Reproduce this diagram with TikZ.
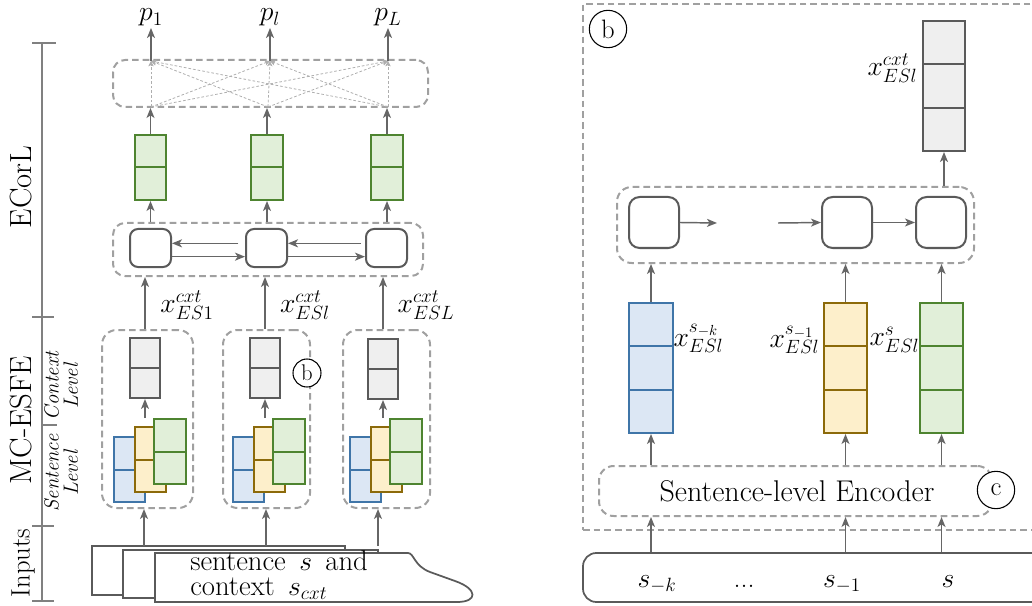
\documentclass[tikz,border=0pt]{standalone}
\usetikzlibrary{arrows.meta,fit,calc}
\definecolor{dk}{HTML}{5A5A5A}
\definecolor{arrc}{HTML}{666666}
\definecolor{dsh}{HTML}{A0A0A0}
\definecolor{axc}{HTML}{808080}
\definecolor{bluS}{HTML}{3F75A8}
\definecolor{bluF}{HTML}{DCE7F4}
\definecolor{ylwS}{HTML}{8C6A0A}
\definecolor{ylwF}{HTML}{FDEFCB}
\definecolor{grnS}{HTML}{4E8430}
\definecolor{grnF}{HTML}{E1EFD9}
\definecolor{gryF}{HTML}{EFEFEF}
\begin{document}
\begin{tikzpicture}[x=0.75pt,y=-0.75pt,
  arr/.style={draw=arrc, line width=1.1pt, -{Stealth[length=7.5pt,width=6pt,inset=2pt]}},
  xln/.style={draw=dsh!85, line width=0.6pt, dash pattern=on 2pt off 1.5pt, -{Stealth[length=4pt,width=4pt,inset=1pt]}},
  axis/.style={draw=axc, line width=0.8pt},
  vecbox/.style={inner sep=0pt, line width=1.5pt},
  bluev/.style={vecbox, draw=bluS, fill=bluF},
  ylwv/.style={vecbox, draw=ylwS, fill=ylwF},
  grnv/.style={vecbox, draw=grnS, fill=grnF},
  gryv/.style={vecbox, draw=dk, fill=gryF},
  half/.style={path picture={\draw[#1,line width=1.5pt] (path picture bounding box.west) -- (path picture bounding box.east);}},
  thirds/.style={path picture={\draw[#1,line width=1.5pt]
     ($(path picture bounding box.north west)!0.3333!(path picture bounding box.south west)$) -- ($(path picture bounding box.north east)!0.3333!(path picture bounding box.south east)$)
     ($(path picture bounding box.north west)!0.6667!(path picture bounding box.south west)$) -- ($(path picture bounding box.north east)!0.6667!(path picture bounding box.south east)$);}},
  cellst/.style={draw=dk, fill=white, line width=1.5pt, rounded corners=6pt, inner sep=0pt},
  dbox/.style={draw=dsh, line width=1.5pt, dash pattern=on 5pt off 3pt, rounded corners=9pt, inner sep=0pt},
  side/.style={font=\fontsize{23}{26}\selectfont, inner sep=0pt},
  lvl/.style={font=\fontsize{15.5}{14.5}\selectfont\itshape, align=center, inner sep=0pt},
  mlab/.style={font=\fontsize{21}{24}\selectfont, inner sep=1pt},
  plab/.style={font=\fontsize{22}{24}\selectfont, inner sep=1pt, anchor=base},
  slab/.style={font=\fontsize{21}{24}\selectfont, inner sep=1pt, anchor=base},
  circ/.style={circle, draw=black, line width=0.8pt, fill=white, inner sep=0pt},
  doc/.style={draw=dk, fill=white, line width=1.3pt}
]
\useasboundingbox (0,0) rectangle (1032,606);
\clip (0,0) rectangle (1032,606);

% ---------------- left axis and labels
\draw[axis] (42,43) -- (42,601);
\draw[axis] (32,43) -- (56,43);
\draw[axis] (32,317) -- (54,317);
\draw[axis] (42,425) -- (57,425);
\draw[axis] (32,526) -- (54,526);
\draw[axis] (32,601) -- (54,601);
\node[side, rotate=90] (lEcorl) at (21,187) {ECorL};
\node[side, rotate=90] (lMc) at (21,420) {MC-ESFE};
\node[side, rotate=90, font=\fontsize{20}{24}\selectfont] (lIn) at (23,563) {Inputs};
\node[lvl, rotate=90] (lCtx) at (61,386) {Context\\Level};
\node[lvl, rotate=90] (lSen) at (61,473) {Sentence\\Level};

% ---------------- ECorL output layer
\node[plab] (p1) at (151,21) {$p_1$};
\node[plab] (pl) at (270,21) {$p_l$};
\node[plab] (pL) at (388,21) {$p_L$};
\node[dbox, fit={(113,60)(428,107)}] (obox) {};
\coordinate (ob1) at (151,107); \coordinate (ob2) at (268,107); \coordinate (ob3) at (388,107);
\coordinate (ot1) at (151,61); \coordinate (ot2) at (270,61); \coordinate (ot3) at (388,61);
\foreach \i in {1,2,3}{\foreach \j in {1,2,3}{\draw[xln] (ob\i) -- (ot\j);}}
\draw[arr] (ot1) -- (p1.south);
\draw[arr] (ot2) -- (pl.south);
\draw[arr] (ot3) -- (pL.south);

% green vectors
\node[grnv, half=grnS, fit={(135,135)(166,200)}] (gv1) {};
\node[grnv, half=grnS, fit={(251,135)(283,200)}] (gv2) {};
\node[grnv, half=grnS, fit={(371,135)(403,200)}] (gv3) {};
\foreach \g in {1,2,3}{\draw[arr] (gv\g.north) -- (gv\g.north |- obox.south);}

% RNN layer
\node[dbox, fit={(113,223)(423,276)}] (rbox) {};
\node[cellst, fit={(130,229)(171,267)}] (rc1) {};
\node[cellst, fit={(246,229)(287,267)}] (rc2) {};
\node[cellst, fit={(366,229)(407,267)}] (rc3) {};
\foreach \g in {1,2,3}{\draw[arr] (gv\g.south |- rbox.north) -- (gv\g.south);}
\draw[arr, shorten <=5pt] ([yshift=3.5pt]rc2.west) -- ([yshift=3.5pt]rc1.east);
\draw[arr] ([yshift=-6.5pt]rc1.east) -- ([yshift=-6.5pt]rc2.west);
\draw[arr, shorten <=3pt] ([yshift=3.5pt]rc3.west) -- ([yshift=3.5pt]rc2.east);
\draw[arr] ([yshift=-6.5pt]rc2.east) -- ([yshift=-6.5pt]rc3.west);

% context-level boxes
\node[dbox, rounded corners=11pt, fit={(102,330)(193,508)}] (cb1) {};
\node[dbox, rounded corners=11pt, fit={(223,330)(310,508)}] (cb2) {};
\node[dbox, rounded corners=11pt, fit={(343,330)(430,508)}] (cb3) {};
\node[gryv, half=dk, fit={(130,338)(160,398)}] (cv1) {};
\node[gryv, half=dk, fit={(250,338)(280,398)}] (cv2) {};
\node[gryv, half=dk, fit={(368,339)(398,399)}] (cv3) {};
\draw[arr] (cv1.north |- cb1.north) -- (cv1.north |- rbox.south);
\draw[arr] (cv2.north |- cb2.north) -- (cv2.north |- rbox.south);
\draw[arr] (cv3.north |- cb3.north) -- (cv3.north |- rbox.south);
\node[mlab] (lx1) at (187,305) {$x^{cxt}_{ES1}$};
\node[mlab] (lx2) at (305,305) {$x^{cxt}_{ESl}$};
\node[mlab] (lx3) at (426,305) {$x^{cxt}_{ESL}$};

% sentence-level stacks
\node[bluev, half=bluS, fit={(114,437)(145,502)}] (sb1) {};
\node[ylwv, half=ylwS, fit={(135,427)(166,492)}] (sy1) {};
\node[grnv, half=grnS, fit={(154,419)(186,484)}] (sg1) {};
\node[bluev, half=bluS, fit={(233,437)(264,502)}] (sb2) {};
\node[ylwv, half=ylwS, fit={(254,427)(285,492)}] (sy2) {};
\node[grnv, half=grnS, fit={(273,419)(305,484)}] (sg2) {};
\node[bluev, half=bluS, fit={(350,437)(381,502)}] (sb3) {};
\node[ylwv, half=ylwS, fit={(371,427)(402,492)}] (sy3) {};
\node[grnv, half=grnS, fit={(390,419)(422,484)}] (sg3) {};
\draw[arr] (cv1.south |- sg1.north) -- (cv1.south);
\draw[arr] (cv2.south |- sg2.north) -- (cv2.south);
\draw[arr] (cv3.south |- sg3.north) -- (cv3.south);
\node[circ, minimum size=21pt, font=\fontsize{17}{18}\selectfont] (bL) at (307,373) {b};

% inputs
\draw[doc] (92,546) rectangle (345,595);
\draw[doc] (123,550) rectangle (378,598);
\draw[doc] (155,553) -- (408,553) .. controls (414,553) and (414,566) .. (430,572) -- (455,581)
   .. controls (478,589) and (478,602) .. (457,602) -- (155,602) -- cycle;
\node[font=\fontsize{21.5}{18.5}\selectfont, align=left, anchor=west, inner sep=0pt] (intext) at (190,575)
   {sentence \,$s$\, and\\context \,$s_{cxt}$};
\coordinate (in1) at (144,546); \coordinate (in2) at (266,546); \coordinate (in3) at (378,546);
\draw[arr] (in1) -- (in1 |- cb1.south);
\draw[arr] (in2) -- (in2 |- cb2.south);
\draw[arr] (in3) -- (in3 |- cb3.south);

% ---------------- right panel (b)
\node[draw=dsh, line width=1.5pt, dash pattern=on 5pt off 3pt, inner sep=0pt, fit={(583,4)(1045,530)}] (bbox) {};
\node[circ, minimum size=28pt, font=\fontsize{20}{22}\selectfont] (bR) at (608,29) {b};
\node[gryv, thirds=dk, fit={(923,21)(965,151)}] (gR) {};
\node[mlab, anchor=east] (lgR) at (919,68) {$x^{cxt}_{ESl}$};
\node[dbox, rounded corners=11pt, fit={(617,187)(974,263)}] (Rbox) {};
\node[cellst, rounded corners=8pt, fit={(629,197)(679,248)}] (Rc1) {};
\node[cellst, rounded corners=8pt, fit={(822,197)(872,248)}] (Rc2) {};
\node[cellst, rounded corners=8pt, fit={(916,197)(966,248)}] (Rc3) {};
\coordinate (Rf1) at (717,223); \coordinate (Rf2) at (778,223);
\draw[arr] (Rc1.east) -- (Rf1);
\draw[arr] (Rf2) -- (Rc2.west);
\draw[arr] (Rc2.east) -- (Rc3.west);
\draw[arr] (gR.south |- Rbox.north) -- (gR.south);

\node[bluev, thirds=bluS, fit={(629,303)(673,433)}] (vB) {};
\node[ylwv, thirds=ylwS, fit={(824,303)(867,433)}] (vY) {};
\node[grnv, thirds=grnS, fit={(920,303)(963,433)}] (vG) {};
\node[mlab, anchor=west] (lvB) at (672,338) {$x^{s_{-k}}_{ESl}$};
\node[mlab, anchor=east] (lvY) at (821,340) {$x^{s_{-1}}_{ESl}$};
\node[mlab, anchor=west] (lvG) at (868,340) {$x^{s}_{ESl}$};
\foreach \v in {vB,vY,vG}{\draw[arr] (\v.north) -- (\v.north |- Rbox.south);}

\node[dbox, rounded corners=11pt, fit={(599,466)(992,516)}] (enc) {};
\node[font=\fontsize{22.5}{26}\selectfont] (enct) at (797,491) {Sentence-level Encoder};
\node[circ, minimum size=28pt, font=\fontsize{20}{22}\selectfont] (cR) at (996,490) {c};
\foreach \v in {vB,vY,vG}{\draw[arr] (\v.south |- enc.north) -- (\v.south);}

\node[draw=dk, line width=1.3pt, rounded corners=10pt, inner sep=0pt, fit={(583,553)(1050,602)}] (inbox) {};
\node[slab] (sk) at (657,587) {$s_{-k}$};
\node[slab] (sdots) at (744,587) {...};
\node[slab] (s1) at (842,587) {$s_{-1}$};
\node[slab] (s0) at (948,587) {$s$};
\foreach \v in {vB,vY,vG}{\draw[arr] (\v.south |- inbox.north) -- (\v.south |- enc.south);}
\end{tikzpicture}
\end{document}
